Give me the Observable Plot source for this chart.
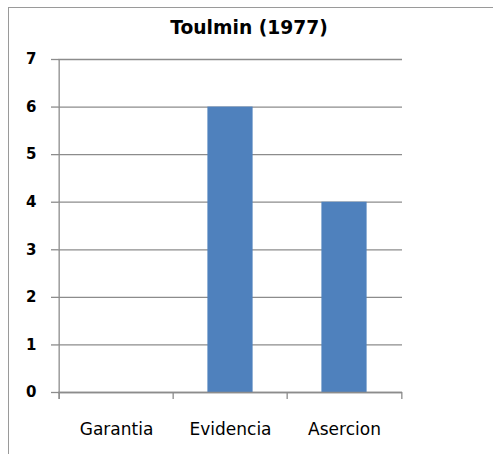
<!DOCTYPE html>
<html>
<head>
<meta charset="utf-8">
<script src="https://cdn.jsdelivr.net/npm/d3@7"></script>
<script src="https://cdn.jsdelivr.net/npm/@observablehq/plot@0.6"></script>
<style>
  html, body { margin: 0; padding: 0; background: #fff; }
  #wrap { position: relative; width: 493px; height: 454px; overflow: hidden; font-family: "DejaVu Sans", sans-serif; }
  #border { position: absolute; left: 8px; top: 7px; width: 700px; height: 700px; border-left: 1px solid #9a9a9a; border-top: 1px solid #9a9a9a; }
  #title { position: absolute; left: 0; top: 0; width: 498px; height: 45px; text-align: center; font-weight: bold; font-size: 18.7px; line-height: 56px; color: #000; }
  #chart { position: absolute; left: 0; top: 45px; }
</style>
</head>
<body>
<div id="wrap">
  <div id="border"></div>
  <div id="title">Toulmin (1977)</div>
  <div id="chart"></div>
</div>
<script>
const categories = ["Garantia", "Evidencia", "Asercion"];
const values = [0, 6, 4];
const yTicks = [0, 1, 2, 3, 4, 5, 6, 7];

const data = categories.map((c, i) => ({category: c, value: values[i]}));

const W = 493, H = 409;
const ml = 58, mr = 91, mt = 14, mb = 62;
const bw = (W - ml - mr) / categories.length;
const gray = "#8c8c8c";

const chart = Plot.plot({
  width: W,
  height: H,
  marginLeft: ml,
  marginRight: mr,
  marginTop: mt,
  marginBottom: mb,
  style: {fontFamily: "'DejaVu Sans', sans-serif", fontSize: "15px", color: "#000", background: "transparent"},
  x: {domain: categories, type: "band", padding: 0},
  y: {domain: [0, 7]},
  marks: [
    Plot.gridY(yTicks, {stroke: gray, strokeOpacity: 1, strokeWidth: 1.3}),
    Plot.axisY(yTicks, {tickSize: 7, tickPadding: 15, stroke: gray, strokeOpacity: 1, strokeWidth: 1.3, label: null, tickFormat: d => String(d), fontSize: 15, fontWeight: "bold", fill: "#000"}),
    Plot.barY(data, {x: "category", y: "value", fill: "#4F81BD", insetLeft: bw * 0.3, insetRight: bw * 0.3}),
    Plot.axisX({tickSize: 0, tickPadding: 30, label: null, fontSize: 17, fill: "#000"}),
    // y axis line
    Plot.ruleX([categories[0]], {x: d => d, dx: -bw / 2, y1: 7, y2: 0, insetBottom: -7, stroke: gray, strokeWidth: 1.3}),
    // x axis line
    Plot.ruleY([0], {stroke: gray, strokeWidth: 1.3}),
    // boundary ticks between categories
    Plot.ruleX(categories, {x: d => d, dx: -bw / 2, y1: 0, y2: 0, insetBottom: -7, stroke: gray, strokeWidth: 1.3}),
    Plot.ruleX([categories[categories.length - 1]], {x: d => d, dx: bw / 2, y1: 0, y2: 0, insetBottom: -7, stroke: gray, strokeWidth: 1.3})
  ]
});
document.getElementById("chart").appendChild(chart);
</script>
</body>
</html>
